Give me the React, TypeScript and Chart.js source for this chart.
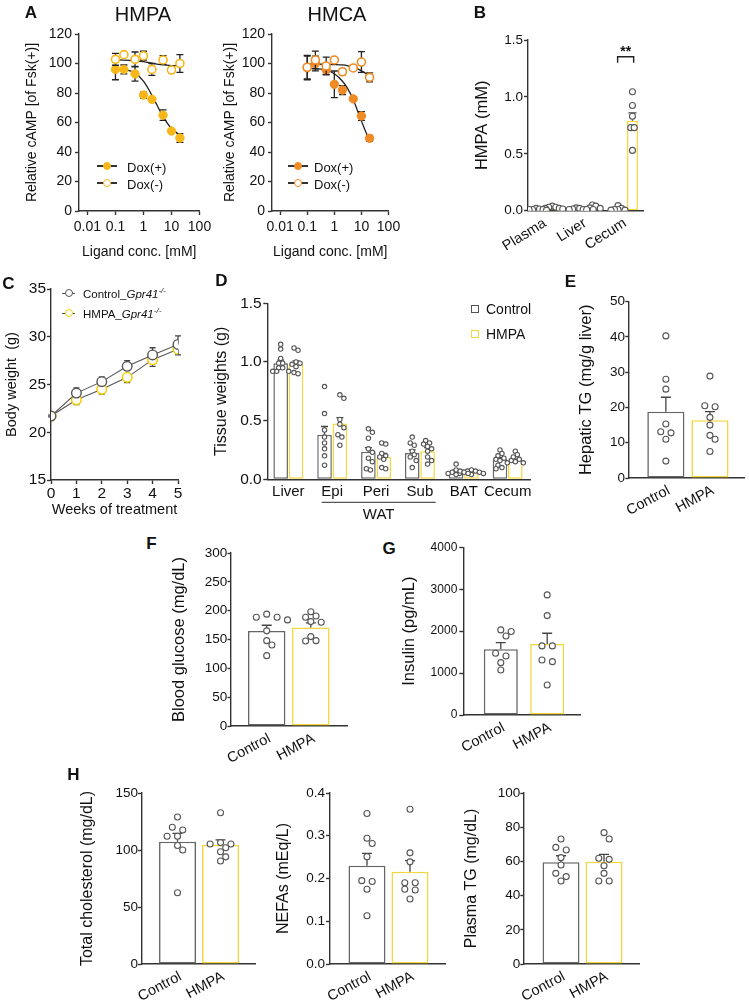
import React, { useEffect, useRef } from 'react';
import { Chart, registerables } from 'chart.js';

Chart.register(...registerables);

const FONT = "'Liberation Sans', Arial, Helvetica, sans-serif";
Chart.defaults.font.family = FONT;
Chart.defaults.color = '#111111';

const INK = '#111111';
const AXIS = '#333333';
const CTRL = '#666666';
const HMPA_Y = '#F5D63C';
const A_HMPA = '#F7B718';
const A_HMCA = '#F08A24';
const C_HMPA = '#F2CF0A';
const DOT = '#555555';
const ERR = '#3a3a3a';

// ---------------- Panel A ----------------
const ligandConc = [0.1, 0.2, 0.5, 1, 2, 5, 10, 20];
const logTicks = [0.01, 0.1, 1, 10, 100];
const hmpaPlus = [96, 96, 93, 78.6, 75.7, 65, 54.2, 49.5];
const hmpaPlusErr = [7, 3, 5, 2, 1, 3.5, 1, 3];
const hmpaMinus = [102.8, 106, 102.8, 105.3, 96, 102.4, 95.6, 100];
const hmpaMinusErr = [4, 1, 5, 3, 4, 3, 2, 6];
const hmpaFitX = [0.1, 0.2, 0.5, 1, 2, 3, 5, 10, 20];
const hmpaFitPlus = [96.5, 96, 93.5, 88, 78.5, 72, 64, 56, 51.5];
const hmpaFitMinus = [102.5, 102.3, 101.8, 101.2, 100.2, 99.6, 99, 98.6, 98.5];
const hmcaPlus = [97, 100, 95.6, 85.9, 82, 76, 64.4, 49.3];
const hmcaPlusErr = [8, 5, 3, 9, 3, 1, 3, 2];
const hmcaMinus = [97.5, 102.4, 98.3, 102.4, 94.4, 97, 101, 90.6];
const hmcaMinusErr = [8, 6, 6, 1, 2, 1, 7, 3];
const hmcaFitX = [0.1, 0.2, 0.5, 1, 2, 3, 5, 7, 10, 15, 20];
const hmcaFitPlus = [97, 96.5, 95.5, 93, 88, 83.5, 75.5, 68.5, 61, 53, 48];
const hmcaFitMinus = [99.6, 99.6, 99.5, 99.3, 99, 98.5, 97.3, 96.3, 95, 93, 91];

// ---------------- Panel B ----------------
const bCats = ['Plasma', 'Liver', 'Cecum'];
const bControlMean = [0.012, 0.012, 0.015];
const bControlSem = [0.002, 0.003, 0.006];
const bHmpaMean = [0.025, 0.025, 0.79];
const bHmpaSem = [0.004, 0.007, 0.07];
const bControlDots = [
  [0.02, 0.015, 0.01, 0.01, 0.01, 0.005],
  [0.025, 0.02, 0.015, 0.01, 0.01, 0.01],
  [0.045, 0.02, 0.01, 0.01, 0.005, 0.005],
];
const bHmpaDots = [
  [0.04, 0.03, 0.03, 0.02, 0.02, 0.015],
  [0.05, 0.04, 0.025, 0.02, 0.01, 0.01],
  [1.045, 0.925, 0.83, 0.73, 0.73, 0.53],
];

// ---------------- Panel C ----------------
const weeks = [0, 1, 2, 3, 4, 5];
const bwControl = [21.7, 24.1, 25.3, 26.9, 28.1, 29.2];
const bwControlErr = [0.1, 0.55, 0.5, 0.6, 0.75, 0.9];
const bwHmpa = [21.7, 23.4, 24.5, 25.75, 27.6, 28.7];
const bwHmpaErr = [0.1, 0.5, 0.5, 0.55, 0.7, 0.6];

// ---------------- Panel D ----------------
const dCats = ['Liver', 'Epi', 'Peri', 'Sub', 'BAT', 'Cecum'];
const dControlMean = [0.99, 0.38, 0.235, 0.225, 0.07, 0.17];
const dControlSem = [0.025, 0.07, 0.035, 0.025, 0.01, 0.015];
const dHmpaMean = [0.98, 0.475, 0.19, 0.24, 0.06, 0.16];
const dHmpaSem = [0.03, 0.05, 0.03, 0.03, 0.006, 0.012];
const dControlDots = [
  [1.15, 1.11, 1.03, 0.99, 0.99, 0.95, 0.95, 0.92, 0.92, 0.92],
  [0.79, 0.56, 0.42, 0.36, 0.31, 0.26, 0.2, 0.12],
  [0.43, 0.4, 0.35, 0.26, 0.23, 0.18, 0.15, 0.09, 0.08],
  [0.36, 0.31, 0.29, 0.24, 0.21, 0.19, 0.16, 0.1],
  [0.13, 0.08, 0.07, 0.06, 0.06, 0.05, 0.05, 0.04],
  [0.25, 0.22, 0.2, 0.18, 0.17, 0.16, 0.12, 0.1, 0.09],
];
const dHmpaDots = [
  [1.12, 1.1, 1.0, 0.99, 0.98, 0.96, 0.91, 0.9],
  [0.72, 0.69, 0.51, 0.47, 0.44, 0.38, 0.36, 0.29],
  [0.31, 0.3, 0.22, 0.2, 0.19, 0.17, 0.1, 0.09],
  [0.33, 0.31, 0.3, 0.28, 0.26, 0.24, 0.19, 0.16, 0.13],
  [0.08, 0.07, 0.07, 0.06, 0.06, 0.05, 0.05, 0.04],
  [0.24, 0.21, 0.19, 0.17, 0.16, 0.15, 0.14, 0.14],
];

// ---------------- Panels E-H (Control vs HMPA) ----------------
const groupCats = ['Control', 'HMPA'];
const eMean = [18.8, 16.4];
const eSem = [4.1, 2.4];
const eDots = [
  [40.3, 28.0, 25.2, 15.3, 13.1, 12.8, 11.0, 4.8],
  [28.9, 20.5, 20.2, 17.2, 15.0, 12.1, 11.0, 7.5],
];
const fMean = [164.7, 171];
const fSem = [10, 8];
const fDots = [
  [194, 188.5, 188.5, 184, 165, 148, 140.5, 122],
  [198, 190.7, 188.5, 181, 180, 155, 148, 147.4],
];
const gMean = [1569, 1695];
const gSem = [158, 255];
const gDots = [
  [2030, 1990, 1886, 1473, 1409, 1249, 1075],
  [2865, 2371, 1648, 1648, 1313, 1273, 716],
];
const hCholMean = [107.3, 104.4];
const hCholSem = [7.3, 4.4];
const hCholDots = [
  [129, 120, 117.5, 112, 112, 104, 100, 62.5],
  [132.7, 106.5, 105.3, 105.3, 102, 98.5, 94, 90.4],
];
const hNefaMean = [0.23, 0.216];
const hNefaSem = [0.029, 0.026];
const hNefaDots = [
  [0.352, 0.294, 0.282, 0.251, 0.195, 0.193, 0.175, 0.113],
  [0.362, 0.26, 0.239, 0.19, 0.19, 0.175, 0.173, 0.152],
];
const hTgMean = [59.5, 59.8];
const hTgSem = [3.8, 4.3];
const hTgDots = [
  [73.1, 68.2, 66.7, 62.2, 57.9, 53, 51.1, 48.5],
  [76.8, 73.1, 61.8, 61.2, 57.5, 53, 48.5, 48.5],
];

// ---------------- helpers ----------------
type Geo = { l: number; t: number; r: number; b: number; yW: number; xH: number; padT?: number; padR?: number };

// deterministic beeswarm (no randomness): places dots next to each other where they would overlap
function swarm(values: number[], pxY: number, pxX: number, minDist: number, step: number): number[] {
  const order = values.map((_, i) => i).sort((a, b) => values[b] - values[a]);
  const pos: Array<[number, number]> = values.map(() => [0, 0]);
  const done: number[] = [];
  const collides = (c: number, y: number, skip: number[]) => {
    for (const j of done) {
      if (skip.includes(j)) continue;
      const [px, py] = pos[j];
      if ((px - c) * (px - c) + (py - y) * (py - y) < minDist * minDist - 0.01) return true;
    }
    return false;
  };
  for (const i of order) {
    const y = values[i] * pxY;
    let chosen = 0;
    for (let k = 0; k < 80; k++) {
      const c = k === 0 ? 0 : (k % 2 === 1 ? 1 : -1) * Math.ceil(k / 2) * step;
      if (!collides(c, y, [])) { chosen = c; break; }
    }
    pos[i] = [chosen, y];
    done.push(i);
  }
  // centre rows of side-by-side dots
  let k = 0;
  while (k < order.length) {
    const row = [order[k]];
    let m = k + 1;
    while (m < order.length && Math.abs(pos[order[m]][1] - pos[order[k]][1]) < minDist * 0.6) { row.push(order[m]); m++; }
    if (row.length > 1) {
      const mean = row.reduce((s, j) => s + pos[j][0], 0) / row.length;
      const ok = row.every((j) => !collides(pos[j][0] - mean, pos[j][1], row));
      if (ok) row.forEach((j) => { pos[j] = [pos[j][0] - mean, pos[j][1]]; });
    }
    k = m;
  }
  return pos.map((p) => p[0] / pxX);
}

function drawErr(chart: any, args: any, behind: boolean) {
  const ds: any = chart.data.datasets[args.index];
  if (!ds || !ds.errors || !!ds.errorBehind !== behind) return;
  const meta = args.meta;
  const ys = chart.scales[meta.yAxisID];
  const ctx = chart.ctx;
  ctx.save();
  ctx.strokeStyle = ds.errorColor || ERR;
  ctx.lineWidth = ds.errorWidth || 1.3;
  const cap = ds.errorCap ?? 4;
  const dir = ds.errorDir || 'both';
  meta.data.forEach((el: any, i: number) => {
    const e = ds.errors[i];
    if (!e) return;
    const raw = ds.data[i];
    const v = typeof raw === 'number' ? raw : raw.y;
    const x = el.x;
    const yM = ys.getPixelForValue(v);
    const yU = ys.getPixelForValue(v + e);
    const yD = ys.getPixelForValue(v - e);
    ctx.beginPath();
    if (dir !== 'down') { ctx.moveTo(x, yM); ctx.lineTo(x, yU); ctx.moveTo(x - cap, yU); ctx.lineTo(x + cap, yU); }
    if (dir !== 'up') { ctx.moveTo(x, yM); ctx.lineTo(x, yD); ctx.moveTo(x - cap, yD); ctx.lineTo(x + cap, yD); }
    ctx.stroke();
  });
  ctx.restore();
}

const errorBarPlugin = {
  id: 'errorBars',
  beforeDatasetDraw(chart: any, args: any) { drawErr(chart, args, true); },
  afterDatasetDraw(chart: any, args: any) { drawErr(chart, args, false); },
};

function yScale(geo: Geo, o: any) {
  return {
    type: 'linear', position: 'left', min: o.min, max: o.max,
    afterFit: (s: any) => { s.width = geo.yW; },
    ticks: { stepSize: o.step, autoSkip: false, font: { size: o.tickSize }, color: INK, padding: o.pad, callback: o.fmt || ((v: number) => String(v)) },
    grid: { display: true, drawOnChartArea: false, drawTicks: true, tickLength: o.tickLen ?? 4, tickWidth: 1.4, tickColor: AXIS, color: AXIS },
    border: { display: true, color: AXIS, width: 1.4 },
    title: { display: true, text: o.title, font: { size: o.titleSize }, color: INK, padding: 0 },
  };
}

function xCatScale(geo: Geo, o: any) {
  return {
    type: 'linear', position: 'bottom', min: o.min, max: o.max, offset: false,
    afterFit: (s: any) => { s.height = geo.xH; },
    afterBuildTicks: (s: any) => { s.ticks = o.cats.map((_: string, i: number) => ({ value: i })); },
    ticks: {
      autoSkip: false, minRotation: o.rot, maxRotation: o.rot, font: { size: o.size }, color: INK,
      padding: o.pad, labelOffset: o.labelOffset || 0,
      callback: (v: number) => o.cats[Math.round(v)] ?? '',
    },
    grid: { display: false, drawTicks: false, offset: false },
    border: { display: true, color: AXIS, width: 1.4 },
  };
}

function baseOptions(scales: any, plugins: any[] = []) {
  return {
    options: {
      events: [],
      plugins: { legend: { display: false }, tooltip: { enabled: false }, title: { display: false } },
      scales,
    },
    plugins: [errorBarPlugin, ...plugins],
  };
}

function dotDataset(data: any[], r: number) {
  return {
    type: 'scatter', data, pointRadius: r, pointHoverRadius: r, pointBackgroundColor: '#ffffff',
    pointBorderColor: DOT, pointBorderWidth: 1.1, order: 0,
  };
}

function doseConfig(geo: Geo, s: any) {
  const base = baseOptions({
    x: {
      type: 'logarithmic', position: 'bottom', min: 0.005, max: 100,
      afterFit: (sc: any) => { sc.height = geo.xH; },
      afterBuildTicks: (sc: any) => { sc.ticks = logTicks.map((v) => ({ value: v })); },
      ticks: { autoSkip: false, minRotation: 0, maxRotation: 0, font: { size: 14 }, color: INK, padding: 3.6, callback: (v: number) => String(v) },
      grid: { display: true, drawOnChartArea: false, drawTicks: true, tickLength: 4, tickWidth: 1.4, tickColor: AXIS, color: AXIS },
      border: { display: true, color: AXIS, width: 1.4 },
      title: { display: true, text: 'Ligand conc. [mM]', font: { size: 14 }, color: INK, padding: 0 },
    },
    y: yScale(geo, { min: 0, max: 120, step: 20, tickSize: 14, pad: 3, title: 'Relative cAMP [of Fsk(+)]', titleSize: 14 }),
  });
  const fit = (ys: number[]) => ({
    type: 'line', data: s.fitX.map((x: number, i: number) => ({ x, y: ys[i] })), borderColor: '#222222',
    borderWidth: 1.3, pointRadius: 0, cubicInterpolationMode: 'monotone', fill: false, order: 5,
  });
  return {
    type: 'scatter',
    data: {
      datasets: [
        fit(s.fitPlus),
        fit(s.fitMinus),
        {
          type: 'scatter', data: ligandConc.map((x, i) => ({ x, y: s.plus[i] })), pointRadius: 4.2,
          pointBackgroundColor: s.color, pointBorderColor: s.color, pointBorderWidth: 1,
          errors: s.plusErr, errorDir: 'both', errorCap: 3.5, errorBehind: true, errorColor: '#222222', order: 2,
        },
        {
          type: 'scatter', data: ligandConc.map((x, i) => ({ x, y: s.minus[i] })), pointRadius: 4.0,
          pointBackgroundColor: '#ffffff', pointBorderColor: s.color, pointBorderWidth: 1.6,
          errors: s.minusErr, errorDir: 'both', errorCap: 3.5, errorBehind: true, errorColor: '#222222', order: 1,
        },
      ],
    },
    ...base,
  };
}

function growthConfig(geo: Geo) {
  const base = baseOptions({
    x: {
      type: 'linear', position: 'bottom', min: 0, max: 5,
      afterFit: (sc: any) => { sc.height = geo.xH; },
      ticks: { stepSize: 1, autoSkip: false, font: { size: 15.5 }, color: INK, padding: 0, maxRotation: 0 },
      grid: { display: true, drawOnChartArea: false, drawTicks: true, tickLength: 4, tickWidth: 1.4, tickColor: AXIS, color: AXIS },
      border: { display: true, color: AXIS, width: 1.4 },
      title: { display: true, text: 'Weeks of treatment', font: { size: 14.5 }, color: INK, padding: 0 },
    },
    y: yScale(geo, { min: 15, max: 35, step: 5, tickSize: 15.5, pad: 1, title: 'Body weight  (g)', titleSize: 14.5 }),
  });
  return {
    type: 'line',
    data: {
      datasets: [
        {
          data: weeks.map((x, i) => ({ x, y: bwControl[i] })), borderColor: '#555555', borderWidth: 1.1,
          pointRadius: 4.8, pointBackgroundColor: '#ffffff', pointBorderColor: '#555555', pointBorderWidth: 1.4,
          errors: bwControlErr, errorDir: 'up', errorCap: 3, errorBehind: true, errorColor: '#444444', order: 0,
        },
        {
          data: weeks.map((x, i) => ({ x, y: bwHmpa[i] })), borderColor: '#555555', borderWidth: 1.1,
          pointRadius: 4.8, pointBackgroundColor: '#ffffff', pointBorderColor: C_HMPA, pointBorderWidth: 1.6,
          errors: bwHmpaErr, errorDir: 'down', errorCap: 3, errorBehind: true, errorColor: '#444444', order: 1,
        },
      ],
    },
    ...base,
  };
}

function groupedConfig(geo: Geo, s: any, plugins: any[] = []) {
  const pxY = (geo.b - geo.t) / (s.ymax - s.ymin);
  const pxX = (geo.r - geo.l) / (s.xmax - s.xmin);
  const shift = s.catPct / 4;
  const mk = (groups: number[][], sign: number) => groups.flatMap((vals, i) => {
    const off = swarm(vals, pxY, pxX, s.dotD, s.dotStep);
    return vals.map((v, j) => ({ x: i + sign * shift + off[j], y: v }));
  });
  const bar = (means: number[], sems: number[], color: string) => ({
    type: 'bar', data: means.map((m, i) => ({ x: i, y: m })), backgroundColor: '#ffffff', borderColor: color,
    borderWidth: 1.5, borderSkipped: false, categoryPercentage: s.catPct, barPercentage: s.barPct,
    errors: sems, errorDir: 'up', errorCap: s.cap, errorColor: '#444444', order: 2,
  });
  const base = baseOptions({
    x: xCatScale(geo, { min: s.xmin, max: s.xmax, cats: s.cats, rot: s.rot, size: s.labelSize, pad: s.labelPad, labelOffset: s.labelOffset }),
    y: yScale(geo, { min: s.ymin, max: s.ymax, step: s.step, tickSize: s.tickSize, pad: s.tickPad, tickLen: s.tickLen, title: s.title, titleSize: s.titleSize, fmt: s.fmt }),
  }, plugins);
  return {
    type: 'bar',
    data: {
      datasets: [
        dotDataset(mk(s.ctrlDots, -1), s.dotR),
        dotDataset(mk(s.hmpaDots, 1), s.dotR),
        bar(s.ctrlMean, s.ctrlSem, CTRL),
        bar(s.hmpaMean, s.hmpaSem, HMPA_Y),
      ],
    },
    ...base,
  };
}

function pairedConfig(geo: Geo, s: any) {
  const pxY = (geo.b - geo.t) / (s.ymax - s.ymin);
  const pxX = (geo.r - geo.l) / (s.xmax - s.xmin);
  const dots = s.dots.flatMap((vals: number[], i: number) => {
    const off = swarm(vals, pxY, pxX, 6.4, 5.2);
    return vals.map((v, j) => ({ x: i + off[j], y: v }));
  });
  const base = baseOptions({
    x: xCatScale(geo, { min: s.xmin, max: s.xmax, cats: groupCats, rot: 28, size: 14.5, pad: 4, labelOffset: 3 }),
    y: yScale(geo, { min: s.ymin, max: s.ymax, step: s.step, tickSize: s.tickSize, pad: s.tickPad, tickLen: s.tickLen, title: s.title, titleSize: s.titleSize, fmt: s.fmt }),
  });
  return {
    type: 'bar',
    data: {
      datasets: [
        dotDataset(dots, 3.0),
        {
          type: 'bar', data: s.means.map((m: number, i: number) => ({ x: i, y: m })), backgroundColor: '#ffffff',
          borderColor: [CTRL, HMPA_Y], borderWidth: 1.6, borderSkipped: false, categoryPercentage: 1, barPercentage: s.barPct,
          errors: s.sems, errorDir: 'up', errorCap: 5, errorColor: '#444444', order: 2,
        },
      ],
    },
    ...base,
  };
}

const sigPlugin = {
  id: 'sigMark',
  afterDatasetsDraw(chart: any) {
    const { ctx, scales } = chart;
    const x = scales.x; const y = scales.y;
    const x1 = x.getPixelForValue(2 - 0.19);
    const x2 = x.getPixelForValue(2 + 0.21);
    const yTop = y.getPixelForValue(1.353);
    const yLeg = y.getPixelForValue(1.3);
    ctx.save();
    ctx.strokeStyle = '#222222';
    ctx.lineWidth = 1.4;
    ctx.beginPath();
    ctx.moveTo(x1, yLeg); ctx.lineTo(x1, yTop); ctx.lineTo(x2, yTop); ctx.lineTo(x2, yLeg);
    ctx.stroke();
    ctx.fillStyle = '#111111';
    ctx.font = `bold 14px ${FONT}`;
    ctx.textAlign = 'center';
    ctx.textBaseline = 'middle';
    ctx.fillText('**', (x1 + x2) / 2, y.getPixelForValue(1.395));
    ctx.restore();
  },
};

const watPlugin = {
  id: 'watBracket',
  afterDraw(chart: any) {
    const { ctx, scales, chartArea } = chart;
    const x1 = scales.x.getPixelForValue(0.76);
    const x2 = scales.x.getPixelForValue(3.36);
    const yl = chartArea.bottom + 23;
    ctx.save();
    ctx.strokeStyle = '#555555';
    ctx.lineWidth = 1.2;
    ctx.beginPath(); ctx.moveTo(x1, yl); ctx.lineTo(x2, yl); ctx.stroke();
    ctx.fillStyle = '#111111';
    ctx.font = `15px ${FONT}`;
    ctx.textAlign = 'center';
    ctx.textBaseline = 'middle';
    ctx.fillText('WAT', (x1 + x2) / 2, chartArea.bottom + 36);
    ctx.restore();
  },
};

function ChartCanvas({ geo, make }: { geo: Geo; make: (g: Geo) => any }) {
  const ref = useRef<HTMLCanvasElement | null>(null);
  const padT0 = geo.padT ?? 14;
  const padR0 = geo.padR ?? 16;
  const cl = Math.round(geo.l - geo.yW);
  const ct = Math.round(geo.t - padT0);
  const w = Math.ceil(geo.r + padR0 - cl);
  const h = Math.ceil(geo.b + geo.xH - ct);
  const g: Geo = { ...geo, yW: geo.l - cl, padT: geo.t - ct, padR: cl + w - geo.r, xH: ct + h - geo.b };
  useEffect(() => {
    if (!ref.current) return;
    const cfg = make(g);
    cfg.options = cfg.options || {};
    cfg.options.responsive = false;
    cfg.options.maintainAspectRatio = false;
    cfg.options.animation = false;
    cfg.options.devicePixelRatio = 1;
    cfg.options.layout = { padding: { top: g.padT, right: g.padR, left: 0, bottom: 0 } };
    const chart = new Chart(ref.current, cfg);
    return () => chart.destroy();
  }, []);
  return (
    <canvas ref={ref} width={w} height={h}
      style={{ position: 'absolute', left: cl, top: ct, width: w, height: h }} />
  );
}

function Txt({ x, y, size, bold, align = 'center', children }: any) {
  const tx = align === 'center' ? '-50%' : align === 'right' ? '-100%' : '0';
  return (
    <div style={{ position: 'absolute', left: x, top: y, transform: `translate(${tx}, -50%)`, fontSize: size, fontWeight: bold ? 700 : 400, whiteSpace: 'nowrap', lineHeight: 1 }}>
      {children}
    </div>
  );
}

function Circle({ x, y, r, fill, stroke, bw }: any) {
  return <div style={{ position: 'absolute', left: x - r, top: y - r, width: 2 * r, height: 2 * r, borderRadius: '50%', background: fill, border: `${bw}px solid ${stroke}`, boxSizing: 'border-box' }} />;
}

function HLine({ x1, x2, y, color = '#333333', w = 1.2 }: any) {
  return <div style={{ position: 'absolute', left: x1, top: y - w / 2, width: x2 - x1, height: w, background: color }} />;
}

function Square({ x, y, s, stroke }: any) {
  return <div style={{ position: 'absolute', left: x - s / 2, top: y - s / 2, width: s, height: s, border: `1.5px solid ${stroke}`, boxSizing: 'border-box', background: '#fff' }} />;
}

const geoA1: Geo = { l: 79, t: 34, r: 199.5, b: 211, yW: 55.4, xH: 49.4 };
const geoA2: Geo = { l: 272, t: 34, r: 388.5, b: 211, yW: 50.4, xH: 49.4 };
const geoB: Geo = { l: 528, t: 40, r: 643, b: 210.7, yW: 54.9, xH: 45 };
const geoC: Geo = { l: 51, t: 289, r: 178, b: 480, yW: 48.2, xH: 38.4 };
const geoD: Geo = { l: 267.3, t: 303.3, r: 530, b: 479.3, yW: 55.2, xH: 48 };
const geoE: Geo = { l: 628.3, t: 301.7, r: 746, b: 478, yW: 51.5, xH: 50, padR: 3 };
const geoF: Geo = { l: 230.5, t: 553, r: 347, b: 726, yW: 60.4, xH: 50 };
const geoG: Geo = { l: 463.3, t: 547.3, r: 580, b: 715, yW: 63.2, xH: 50 };
const geoH1: Geo = { l: 142, t: 793, r: 255, b: 964, yW: 63.6, xH: 39 };
const geoH2: Geo = { l: 330, t: 793, r: 445, b: 964, yW: 56.3, xH: 39 };
const geoH3: Geo = { l: 523.3, t: 793, r: 639, b: 964, yW: 60.9, xH: 39 };

export default function App() {
  return (
    <div style={{ position: 'absolute', left: 0, top: 0, width: 749, height: 1003, overflow: 'hidden', background: '#ffffff', fontFamily: FONT, color: INK }}>
      <ChartCanvas geo={geoA1} make={(g) => doseConfig(g, { color: A_HMPA, plus: hmpaPlus, plusErr: hmpaPlusErr, minus: hmpaMinus, minusErr: hmpaMinusErr, fitX: hmpaFitX, fitPlus: hmpaFitPlus, fitMinus: hmpaFitMinus })} />
      <ChartCanvas geo={geoA2} make={(g) => doseConfig(g, { color: A_HMCA, plus: hmcaPlus, plusErr: hmcaPlusErr, minus: hmcaMinus, minusErr: hmcaMinusErr, fitX: hmcaFitX, fitPlus: hmcaFitPlus, fitMinus: hmcaFitMinus })} />
      <ChartCanvas geo={geoB} make={(g) => groupedConfig(g, {
        cats: bCats, ctrlMean: bControlMean, ctrlSem: bControlSem, hmpaMean: bHmpaMean, hmpaSem: bHmpaSem,
        ctrlDots: bControlDots, hmpaDots: bHmpaDots, ymin: 0, ymax: 1.5, step: 0.5, fmt: (v: number) => v.toFixed(1),
        xmin: -0.424, xmax: 2.443, catPct: 0.72, barPct: 0.76, dotR: 3.0, dotD: 3.5, dotStep: 3.5, cap: 4,
        rot: 32, labelSize: 14.5, labelPad: 4, labelOffset: 0, tickSize: 13.5, tickPad: 1, title: 'HMPA (mM)', titleSize: 16.5,
      }, [sigPlugin])} />
      <ChartCanvas geo={geoC} make={(g) => growthConfig(g)} />
      <ChartCanvas geo={geoD} make={(g) => groupedConfig(g, {
        cats: dCats, ctrlMean: dControlMean, ctrlSem: dControlSem, hmpaMean: dHmpaMean, hmpaSem: dHmpaSem,
        ctrlDots: dControlDots, hmpaDots: dHmpaDots, ymin: 0, ymax: 1.5, step: 0.5, fmt: (v: number) => v.toFixed(1),
        xmin: -0.48, xmax: 5.51, catPct: 0.7, barPct: 0.95, dotR: 2.2, dotD: 4, dotStep: 4, cap: 3.5,
        rot: 0, labelSize: 15, labelPad: 3.4, labelOffset: 0, tickSize: 15.5, tickPad: 1.6, title: 'Tissue weights (g)', titleSize: 16,
      }, [watPlugin])} />
      <ChartCanvas geo={geoE} make={(g) => pairedConfig(g, {
        means: eMean, sems: eSem, dots: eDots, ymin: 0, ymax: 50, step: 10, xmin: -0.852, xmax: 1.793, barPct: 0.843,
        tickSize: 13.5, tickPad: 0.3, tickLen: 3, title: 'Hepatic TG (mg/g liver)', titleSize: 16.5,
      })} />
      <ChartCanvas geo={geoF} make={(g) => pairedConfig(g, {
        means: fMean, sems: fSem, dots: fDots, ymin: 0, ymax: 300, step: 50, xmin: -0.821, xmax: 1.821, barPct: 0.85,
        tickSize: 13.5, tickPad: 0.2, tickLen: 3, title: 'Blood glucose (mg/dL)', titleSize: 16.5,
      })} />
      <ChartCanvas geo={geoG} make={(g) => pairedConfig(g, {
        means: gMean, sems: gSem, dots: gDots, ymin: 0, ymax: 4000, step: 1000, xmin: -0.808, xmax: 1.707, barPct: 0.733,
        tickSize: 12, tickPad: 2, tickLen: 4, title: 'Insulin (pg/mL)', titleSize: 16.5,
      })} />
      <ChartCanvas geo={geoH1} make={(g) => pairedConfig(g, {
        means: hCholMean, sems: hCholSem, dots: hCholDots, ymin: 0, ymax: 150, step: 50, xmin: -0.826, xmax: 1.802, barPct: 0.86,
        tickSize: 13.5, tickPad: 0, tickLen: 4, title: 'Total cholesterol (mg/dL)', titleSize: 16,
      })} />
      <ChartCanvas geo={geoH2} make={(g) => pairedConfig(g, {
        means: hNefaMean, sems: hNefaSem, dots: hNefaDots, ymin: 0, ymax: 0.4, step: 0.1, fmt: (v: number) => v.toFixed(1), xmin: -0.86, xmax: 1.814, barPct: 0.86,
        tickSize: 13.5, tickPad: 1, tickLen: 4, title: 'NEFAs (mEq/L)', titleSize: 16,
      })} />
      <ChartCanvas geo={geoH3} make={(g) => pairedConfig(g, {
        means: hTgMean, sems: hTgSem, dots: hTgDots, ymin: 0, ymax: 100, step: 20, xmin: -0.877, xmax: 1.814, barPct: 0.86,
        tickSize: 13.5, tickPad: 0, tickLen: 3, title: 'Plasma TG (mg/dL)', titleSize: 16,
      })} />

      {/* panel letters */}
      <Txt x={31} y={12} size={17} bold>A</Txt>
      <Txt x={480} y={12} size={17} bold>B</Txt>
      <Txt x={8.5} y={283} size={17} bold>C</Txt>
      <Txt x={221.3} y={279.5} size={17} bold>D</Txt>
      <Txt x={570.5} y={280.5} size={17} bold>E</Txt>
      <Txt x={151.5} y={542.5} size={17} bold>F</Txt>
      <Txt x={389} y={547.5} size={17} bold>G</Txt>
      <Txt x={73.3} y={773.5} size={17} bold>H</Txt>

      {/* A titles */}
      <Txt x={143} y={14} size={20}>HMPA</Txt>
      <Txt x={337} y={14} size={20}>HMCA</Txt>

      {/* A legends */}
      <HLine x1={97} x2={117} y={166} />
      <Circle x={107} y={166} r={4.3} fill={A_HMPA} stroke={A_HMPA} bw={1} />
      <Txt x={127} y={166.5} size={13} align="left">Dox(+)</Txt>
      <HLine x1={97} x2={117} y={183} />
      <Circle x={107} y={183} r={4.3} fill="#fff" stroke={A_HMPA} bw={1.6} />
      <Txt x={127} y={183.5} size={13} align="left">Dox(-)</Txt>

      <HLine x1={288} x2={308} y={166} />
      <Circle x={298} y={166} r={4.3} fill={A_HMCA} stroke={A_HMCA} bw={1} />
      <Txt x={314} y={166.5} size={13} align="left">Dox(+)</Txt>
      <HLine x1={288} x2={308} y={183} />
      <Circle x={298} y={183} r={4.3} fill="#fff" stroke={A_HMCA} bw={1.6} />
      <Txt x={314} y={183.5} size={13} align="left">Dox(-)</Txt>

      {/* C legend */}
      <HLine x1={62} x2={75} y={293} color="#555" w={1} />
      <Circle x={68.5} y={293} r={4} fill="#fff" stroke="#555" bw={1.3} />
      <Txt x={83} y={293.5} size={11.5} align="left">Control_<i>Gpr41</i><sup style={{ fontSize: '0.7em', fontStyle: 'italic' }}>-/-</sup></Txt>
      <HLine x1={62} x2={75} y={313} color="#555" w={1} />
      <Circle x={68.5} y={313} r={4} fill="#fff" stroke={C_HMPA} bw={1.5} />
      <Txt x={83} y={313.5} size={11.5} align="left">HMPA_<i>Gpr41</i><sup style={{ fontSize: '0.7em', fontStyle: 'italic' }}>-/-</sup></Txt>

      {/* D legend */}
      <Square x={475} y={308.5} s={8} stroke="#555" />
      <Txt x={486} y={309} size={14} align="left">Control</Txt>
      <Square x={475} y={333.5} s={8} stroke={HMPA_Y} />
      <Txt x={486} y={334} size={14} align="left">HMPA</Txt>
    </div>
  );
}
